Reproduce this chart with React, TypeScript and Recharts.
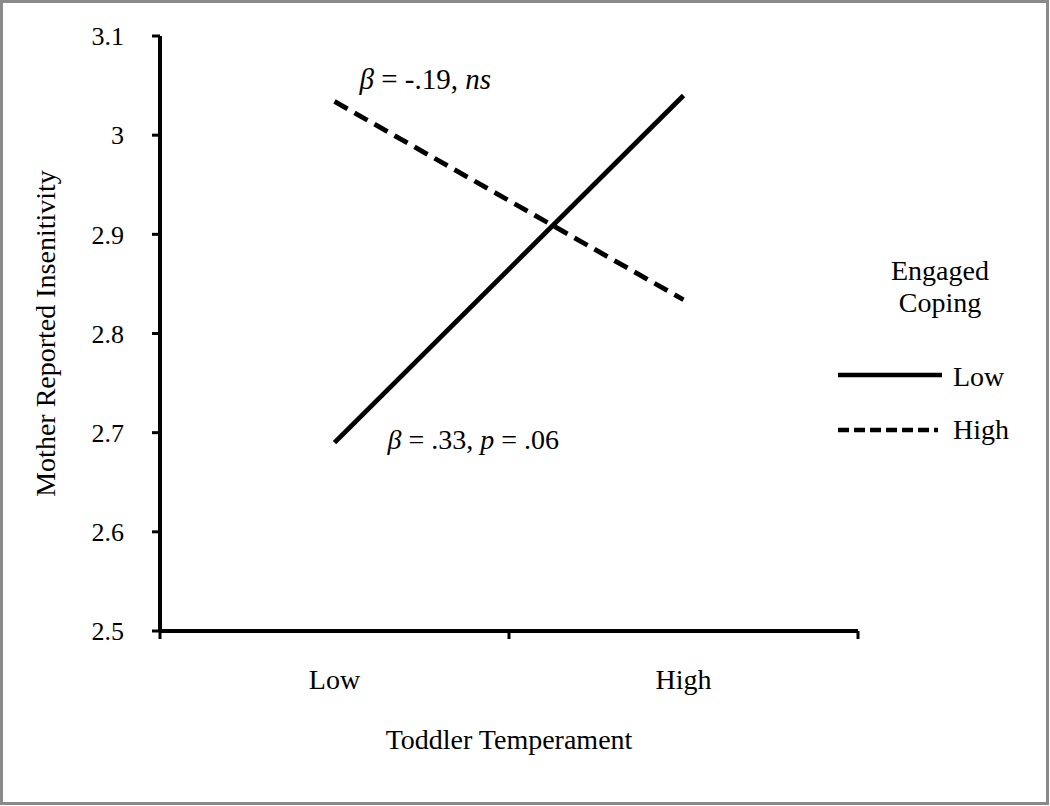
import React from 'react';
import { LineChart, Line, XAxis, YAxis, Legend, ReferenceDot } from 'recharts';

const categories = ['Low', 'High'];
const categoryCenters = [0.5, 1.5];
const categoryBounds = [0, 1, 2];
const lowCoping = [2.69, 3.04];
const highCoping = [3.034, 2.834];
const yTicks = [2.5, 2.6, 2.7, 2.8, 2.9, 3.0, 3.1];
const seriesNames = ['Low', 'High'];
const legendTitle = ['Engaged', 'Coping'];
const xTitle = 'Toddler Temperament';
const yTitle = 'Mother Reported Insenitivity';

const data = categories.map((c, i) => ({
  pos: categoryCenters[i],
  cat: c,
  low: lowCoping[i],
  high: highCoping[i],
}));

const FONT = '"Times New Roman", "Liberation Serif", serif';

const LegendContent = () => (
  <svg width={210} height={200} style={{ display: 'block', overflow: 'visible' }}>
    <g fontFamily={FONT} fontSize={28} fill="#000">
      <text x={110} y={25} textAnchor="middle">{legendTitle[0]}</text>
      <text x={110} y={57} textAnchor="middle">{legendTitle[1]}</text>
      <line x1={8} x2={112} y1={120} y2={120} stroke="#000" strokeWidth={4.5} />
      <text x={123} y={131}>{seriesNames[0]}</text>
      <line x1={8} x2={108} y1={175} y2={175} stroke="#000" strokeWidth={4.5} strokeDasharray="11 5" />
      <text x={123} y={184}>{seriesNames[1]}</text>
    </g>
  </svg>
);

export default function App() {
  return (
    <div style={{ position: 'absolute', left: 0, top: 0, width: 1050, height: 806, background: '#fff' }}>
      <div
        style={{
          position: 'absolute',
          left: 0,
          top: 0,
          width: 1049,
          height: 805,
          boxSizing: 'border-box',
          border: '3px solid #8a8a8a',
        }}
      />
      <div style={{ position: 'absolute', left: 0, top: 0 }}>
        <LineChart
          width={1050}
          height={806}
          data={data}
          margin={{ top: 36, right: 192, left: 30, bottom: 47 }}
        >
          <XAxis
            dataKey="pos"
            type="number"
            domain={[0, 2]}
            ticks={categoryBounds}
            interval={0}
            height={8}
            tickSize={8}
            tickFormatter={() => ''}
            axisLine={{ stroke: '#000', strokeWidth: 4 }}
            tickLine={{ stroke: '#000', strokeWidth: 3 }}
          />
          <XAxis
            xAxisId="lbl"
            dataKey="pos"
            type="number"
            domain={[0, 2]}
            ticks={categoryCenters}
            interval={0}
            height={120}
            tickSize={0}
            tickMargin={30}
            axisLine={false}
            tickLine={false}
            tickFormatter={(v: number) => categories[categoryCenters.indexOf(v)] ?? ''}
            tick={{ fill: '#000', fontSize: 28, fontFamily: FONT }}
            label={{
              content: (props: any) => {
                const vb = props.viewBox || {};
                return (
                  <text
                    x={vb.x + vb.width / 2}
                    y={vb.y + vb.height - 10}
                    textAnchor="middle"
                    fontFamily={FONT}
                    fontSize={28}
                    fill="#000"
                  >
                    {xTitle}
                  </text>
                );
              },
            }}
          />
          <YAxis
            type="number"
            domain={[2.5, 3.1]}
            ticks={yTicks}
            interval={0}
            width={130}
            tickSize={8}
            tickMargin={28}
            tickFormatter={(v: number) => String(+v.toFixed(1))}
            axisLine={{ stroke: '#000', strokeWidth: 4 }}
            tickLine={{ stroke: '#000', strokeWidth: 3 }}
            tick={{ fill: '#000', fontSize: 26, fontFamily: FONT }}
            label={{
              content: (props: any) => {
                const vb = props.viewBox || {};
                const cx = vb.x + 15;
                const cy = vb.y + vb.height / 2;
                return (
                  <text
                    x={cx}
                    y={cy}
                    dy={10}
                    transform={`rotate(-90, ${cx}, ${cy})`}
                    textAnchor="middle"
                    fontFamily={FONT}
                    fontSize={28}
                    fill="#000"
                  >
                    {yTitle}
                  </text>
                );
              },
            }}
          />
          <Legend
            layout="vertical"
            align="center"
            verticalAlign="middle"
            content={<LegendContent />}
            wrapperStyle={{ position: 'absolute', left: 830, top: 255, width: 210, height: 200 }}
          />
          <Line
            dataKey="low"
            name={seriesNames[0]}
            stroke="#000"
            strokeWidth={4.8}
            dot={false}
            activeDot={false}
            isAnimationActive={false}
          />
          <Line
            dataKey="high"
            name={seriesNames[1]}
            stroke="#000"
            strokeWidth={4.8}
            strokeDasharray="15 8"
            dot={false}
            activeDot={false}
            isAnimationActive={false}
          />
          <ReferenceDot
            x={categoryCenters[0]}
            y={highCoping[0]}
            r={0}
            fill="none"
            stroke="none"
            label={{
              content: (props: any) => {
                const vb = props.viewBox || {};
                return (
                  <text x={vb.x + 25} y={vb.y - 12} fontFamily={FONT} fontSize={29} fill="#000">
                    <tspan fontStyle="italic">β</tspan>
                    <tspan>{' = -.19, '}</tspan>
                    <tspan fontStyle="italic">ns</tspan>
                  </text>
                );
              },
            }}
          />
          <ReferenceDot
            x={categoryCenters[0]}
            y={lowCoping[0]}
            r={0}
            fill="none"
            stroke="none"
            label={{
              content: (props: any) => {
                const vb = props.viewBox || {};
                return (
                  <text x={vb.x + 53} y={vb.y + 6} fontFamily={FONT} fontSize={28} fill="#000">
                    <tspan fontStyle="italic">β</tspan>
                    <tspan>{' = .33, '}</tspan>
                    <tspan fontStyle="italic">p</tspan>
                    <tspan>{' = .06'}</tspan>
                  </text>
                );
              },
            }}
          />
        </LineChart>
      </div>
    </div>
  );
}
